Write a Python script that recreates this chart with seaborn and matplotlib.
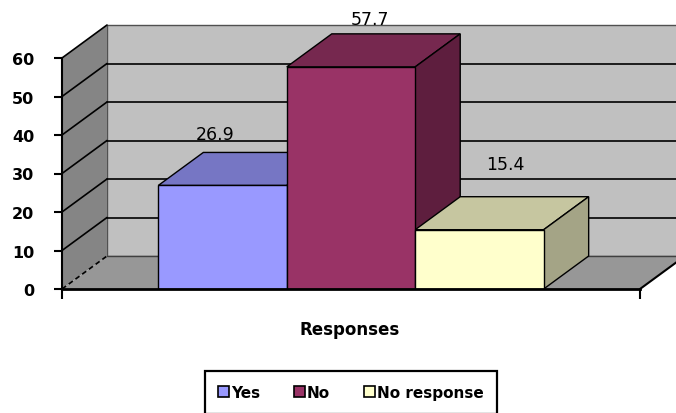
import matplotlib
matplotlib.use("Agg")
import matplotlib.pyplot as plt
from matplotlib.patches import Polygon, Patch
import seaborn as sns
import pandas as pd

# Survey answers (percent)
categories = ["Yes", "No", "No response"]
values = [26.9, 57.7, 15.4]
group = ["Responses"] * 3
y_ticks = [0, 10, 20, 30, 40, 50, 60]

front_colors = ["#9999FF", "#993366", "#FFFFCC"]
top_colors = ["#7676C4", "#76284F", "#C6C6A0"]
side_colors = ["#5E5E9E", "#5E1E3E", "#A4A486"]

# where each value label sits relative to its bar (x in bar-widths, y in value units)
label_offsets = [(-0.06, 13.4), (0.15, 12.4), (0.2, 17.1)]

sns.set_theme(style="white")
plt.rcParams["font.family"] = ["DejaVu Sans"]

W, H = 676, 414
fig = plt.figure(figsize=(W / 100, H / 100), dpi=100)
ax = fig.add_axes([62 / W, (H - 290) / H, 578 / W, 231 / H])

df = pd.DataFrame({"group": group, "category": categories, "value": values})
sns.barplot(data=df, x="group", y="value", hue="category", hue_order=categories,
            palette=front_colors, width=0.8, edgecolor="black", linewidth=1.0,
            saturation=1, ax=ax, legend=False)

xmin, xmax = -0.6, 0.6
ymin, ymax = 0, 60
ax.set_xlim(xmin, xmax)
ax.set_ylim(ymin, ymax)
ax.set_facecolor("none")

# depth of the 3-D box in data units
px_x = (xmax - xmin) / 578.0
px_y = (ymax - ymin) / 231.0
dx, dy = 45 * px_x, 33 * px_y

# walls and floor
back = Polygon([(xmin + dx, dy), (xmax + dx, dy), (xmax + dx, ymax + dy), (xmin + dx, ymax + dy)],
               closed=True, facecolor="#C0C0C0", edgecolor="#505050", lw=1.0,
               zorder=0.5, clip_on=False)
side = Polygon([(xmin, 0), (xmin + dx, dy), (xmin + dx, ymax + dy), (xmin, ymax)],
               closed=True, facecolor="#858585", edgecolor="none", zorder=0.5, clip_on=False)
floor = Polygon([(xmin, 0), (xmax, 0), (xmax + dx, dy), (xmin + dx, dy)],
                closed=True, facecolor="#979797", edgecolor="none", zorder=0.55, clip_on=False)
for p in (back, side, floor):
    ax.add_patch(p)

# gridlines on back wall and side wall
for v in y_ticks:
    if 0 < v < ymax:
        ax.plot([xmin + dx, xmax + dx], [v + dy, v + dy], color="black", lw=1.2,
                zorder=0.6, clip_on=False)
    ls = (0, (3, 2)) if v == 0 else "-"
    ax.plot([xmin, xmin + dx], [v, v + dy], color="black", lw=1.2, ls=ls,
            zorder=0.6, clip_on=False)
ax.plot([xmin + dx, xmax + dx], [dy, dy], color="#404040", lw=1.0, zorder=0.6, clip_on=False)
ax.plot([xmax, xmax + dx], [0, dy], color="black", lw=1.5, zorder=0.7, clip_on=False)

# 3-D top and side faces for each bar
for k, cont in enumerate(ax.containers):
    bar = cont.patches[0]
    x0 = bar.get_x()
    x1 = x0 + bar.get_width()
    h = bar.get_height()
    z = 2 + k
    bar.set_zorder(z + 0.2)
    top = Polygon([(x0, h), (x1, h), (x1 + dx, h + dy), (x0 + dx, h + dy)], closed=True,
                  facecolor=top_colors[k], edgecolor="black", lw=1.0, zorder=z, clip_on=False)
    rside = Polygon([(x1, 0), (x1 + dx, dy), (x1 + dx, h + dy), (x1, h)], closed=True,
                    facecolor=side_colors[k], edgecolor="black", lw=1.0, zorder=z, clip_on=False)
    ax.add_patch(top)
    ax.add_patch(rside)
    ox, oy = label_offsets[k]
    ax.text(x0 + bar.get_width() * (0.5 + ox), h + oy, f"{values[k]:.1f}",
            ha="center", va="center", fontsize=12.5, color="black", zorder=10,
            clip_on=False)

# axes styling
for s in ("top", "right"):
    ax.spines[s].set_visible(False)
ax.spines["left"].set_color("black")
ax.spines["left"].set_linewidth(1.5)
ax.spines["left"].set_zorder(8)
ax.spines["bottom"].set_color("black")
ax.spines["bottom"].set_linewidth(2.0)
ax.spines["bottom"].set_zorder(8)

ax.set_yticks(y_ticks)
ax.set_yticklabels([str(t) for t in y_ticks], fontsize=11.5, fontweight="bold")
ax.tick_params(axis="y", direction="out", length=6, width=1.5, pad=14, colors="black", left=True)
ax.set_xticks([xmin, xmax])
ax.set_xticklabels(["", ""])
ax.tick_params(axis="x", direction="out", length=7, width=1.5, colors="black", bottom=True)

ax.set_ylabel("")
ax.set_xlabel("Responses", fontsize=12, fontweight="bold", va="center", color="black")
ax.xaxis.set_label_coords(0.497, -40 / 231)

handles = [Patch(facecolor=c, edgecolor="black", lw=1.2) for c in front_colors]
leg = fig.legend(handles, categories, loc="upper center",
                 bbox_to_anchor=(351 / W, 1 - 372 / H), borderaxespad=0,
                 ncol=3, frameon=True, fancybox=False, framealpha=1,
                 prop={"size": 11, "weight": "bold"}, handlelength=0.7, handleheight=0.7,
                 handletextpad=0.15, columnspacing=2.2, borderpad=0.9)
leg.get_frame().set_edgecolor("black")
leg.get_frame().set_linewidth(1.6)
for t in leg.get_texts():
    t.set_color("black")

fig.savefig("out.png", dpi=100, facecolor="white")
